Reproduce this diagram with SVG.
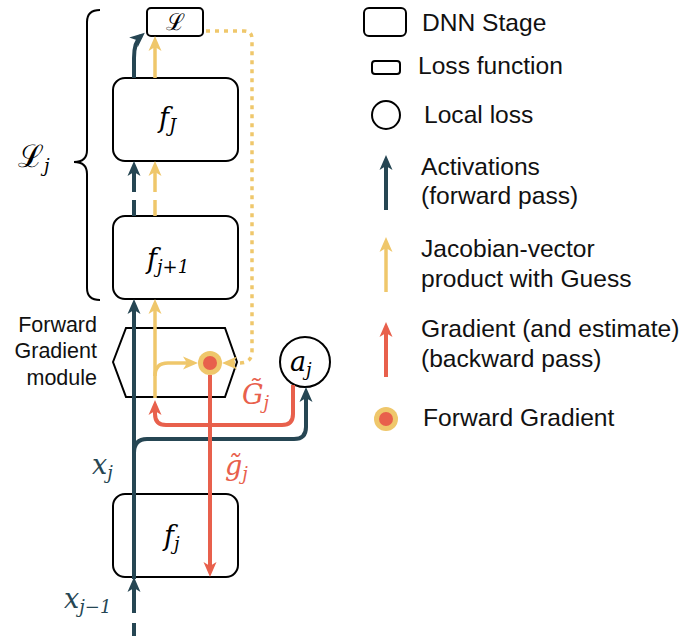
<svg xmlns="http://www.w3.org/2000/svg" width="683" height="636" viewBox="0 0 683 636">
<style>
.box{fill:#fff;stroke:#000;stroke-width:2}
.lg{font-family:"Liberation Sans",Arial,sans-serif;font-size:24.6px;fill:#111}
.side{font-family:"Liberation Sans",Arial,sans-serif;font-size:21.5px;fill:#111}
.m{font-family:"DejaVu Serif","Liberation Serif",serif;font-style:italic;font-size:27px}
.sub{font-size:18px}
.cal{font-family:"DejaVu Serif",serif}
.dk{fill:none;stroke:#264653;stroke-width:4}
.yl{fill:none;stroke:#efc76b;stroke-width:3.5}
.rd{fill:none;stroke:#e8604c;stroke-width:4}
</style>
<defs>
<marker id="ad" markerUnits="userSpaceOnUse" markerWidth="16" markerHeight="14" refX="10" refY="7" orient="auto" viewBox="0 0 16 14"><path d="M0,0.5 L15,7 L0,13.5 L4,7 z" fill="#264653"/></marker>
<marker id="ay" markerUnits="userSpaceOnUse" markerWidth="16" markerHeight="14" refX="10" refY="7" orient="auto" viewBox="0 0 16 14"><path d="M0,0.5 L15,7 L0,13.5 L4,7 z" fill="#efc76b"/></marker>
<marker id="ar" markerUnits="userSpaceOnUse" markerWidth="16" markerHeight="14" refX="10" refY="7" orient="auto" viewBox="0 0 16 14"><path d="M0,0.5 L15,7 L0,13.5 L4,7 z" fill="#e8604c"/></marker>
</defs>
<rect width="683" height="636" fill="#fff"/>

<g id="loss-L"><rect class="box" x="147" y="8" width="56" height="28" rx="4"/><text class="cal" x="175" y="30" text-anchor="middle" font-size="23">ℒ</text></g>
<g id="fJ"><rect class="box" x="113" y="78" width="125" height="83" rx="12"/><text class="m" x="159" y="127">f<tspan class="sub" dy="5">J</tspan></text></g>
<g id="fj1"><rect class="box" x="113" y="216" width="125" height="83" rx="12"/><text class="m" x="147" y="268">f<tspan class="sub" dy="5">j+1</tspan></text></g>
<g id="fg-module"><polygon class="box" points="113,362 126,328 225,328 237,362 225,397 126,397"/>
<text class="side" text-anchor="end"><tspan x="97" y="332">Forward</tspan><tspan x="97" y="358">Gradient</tspan><tspan x="97" y="385">module</tspan></text></g>
<g id="aj"><circle class="box" cx="305" cy="362" r="25"/><text class="m" x="290" y="371">a<tspan class="sub" dy="5">j</tspan></text></g>
<g id="fj"><rect class="box" x="113" y="494" width="125" height="83" rx="12"/><text class="m" x="164" y="545">f<tspan class="sub" dy="5">j</tspan></text></g>

<g id="brace"><path d="M100,10 Q87,10 87,22 L87,150 Q87,162 74,162 Q87,162 87,174 L87,288 Q87,300 100,300" fill="none" stroke="#000" stroke-width="2"/>
<text class="cal" x="18" y="167" font-size="31">ℒ<tspan class="m sub" dy="5">j</tspan></text></g>

<g id="connectors">
<path class="dk" d="M134,636 L134,582" stroke-dasharray="13 10 31" marker-end="url(#ad)"/>
<path class="dk" d="M134,579 L134,304" marker-end="url(#ad)"/>
<path class="dk" d="M134,453 Q134,439 147,439 L294,439 Q306,439 306,427 L306,392" marker-end="url(#ad)"/>
<path class="dk" d="M134,216 L134,166" stroke-dasharray="16 8 26" marker-end="url(#ad)"/>
<path class="dk" d="M134,78 L134,58 Q134,42 141,36" marker-end="url(#ad)"/>
<path class="yl" d="M155,398 L155,304" marker-end="url(#ay)"/>
<path class="yl" d="M155,376 Q155,363 168,363 L193,363" marker-end="url(#ay)"/>
<path class="yl" d="M155,216 L155,166" stroke-dasharray="16 8 26" marker-end="url(#ay)"/>
<path class="yl" d="M155,78 L155,41" marker-end="url(#ay)"/>
<path class="yl" d="M206,31 L244,31 Q252,31 252,39 L252,351 Q252,363 240,363 L227,363" stroke-width="4" stroke-dasharray="4 5" marker-end="url(#ay)"/>
<path class="rd" d="M210,375 L210,572" marker-end="url(#ar)"/>
<path class="rd" d="M293,385 L293,414 Q293,425 282,425 L166,425 Q155,425 155,414 L155,405" marker-end="url(#ar)"/>
<text class="m" x="242" y="404" fill="#e8604c">G̃<tspan class="sub" dy="5">j</tspan></text>
<text class="m" x="225" y="475" fill="#e8604c">g̃<tspan class="sub" dy="5">j</tspan></text>
<text class="m" x="92" y="474" fill="#264653">x<tspan class="sub" dy="5">j</tspan></text>
<text class="m" x="64" y="608" fill="#264653">x<tspan class="sub" dy="5">j−1</tspan></text>
</g>

<g id="fg-dot"><circle cx="210" cy="363" r="12" fill="#efc76b"/><circle cx="210" cy="363" r="7" fill="#e8604c"/></g>

<g id="legend">
<rect class="box" x="364" y="8" width="42" height="28" rx="5"/><text class="lg" x="422" y="31">DNN Stage</text>
<rect class="box" x="372" y="61" width="28" height="13" rx="3"/><text class="lg" x="418" y="74">Loss function</text>
<circle class="box" cx="386" cy="115" r="14"/><text class="lg" x="424" y="123">Local loss</text>
<path class="dk" d="M386,210 L386,160" marker-end="url(#ad)"/>
<text class="lg"><tspan x="421" y="175">Activations</tspan><tspan x="421" y="204">(forward pass)</tspan></text>
<path class="yl" d="M386,292 L386,242" marker-end="url(#ay)"/>
<text class="lg"><tspan x="421" y="257">Jacobian-vector</tspan><tspan x="421" y="287">product with Guess</tspan></text>
<path class="rd" d="M386,377 L386,327" marker-end="url(#ar)"/>
<text class="lg"><tspan x="421" y="337">Gradient (and estimate)</tspan><tspan x="421" y="367">(backward pass)</tspan></text>
<circle cx="386" cy="419" r="12" fill="#efc76b"/><circle cx="386" cy="419" r="7" fill="#e8604c"/>
<text class="lg" x="423" y="426">Forward Gradient</text>
</g>
</svg>
